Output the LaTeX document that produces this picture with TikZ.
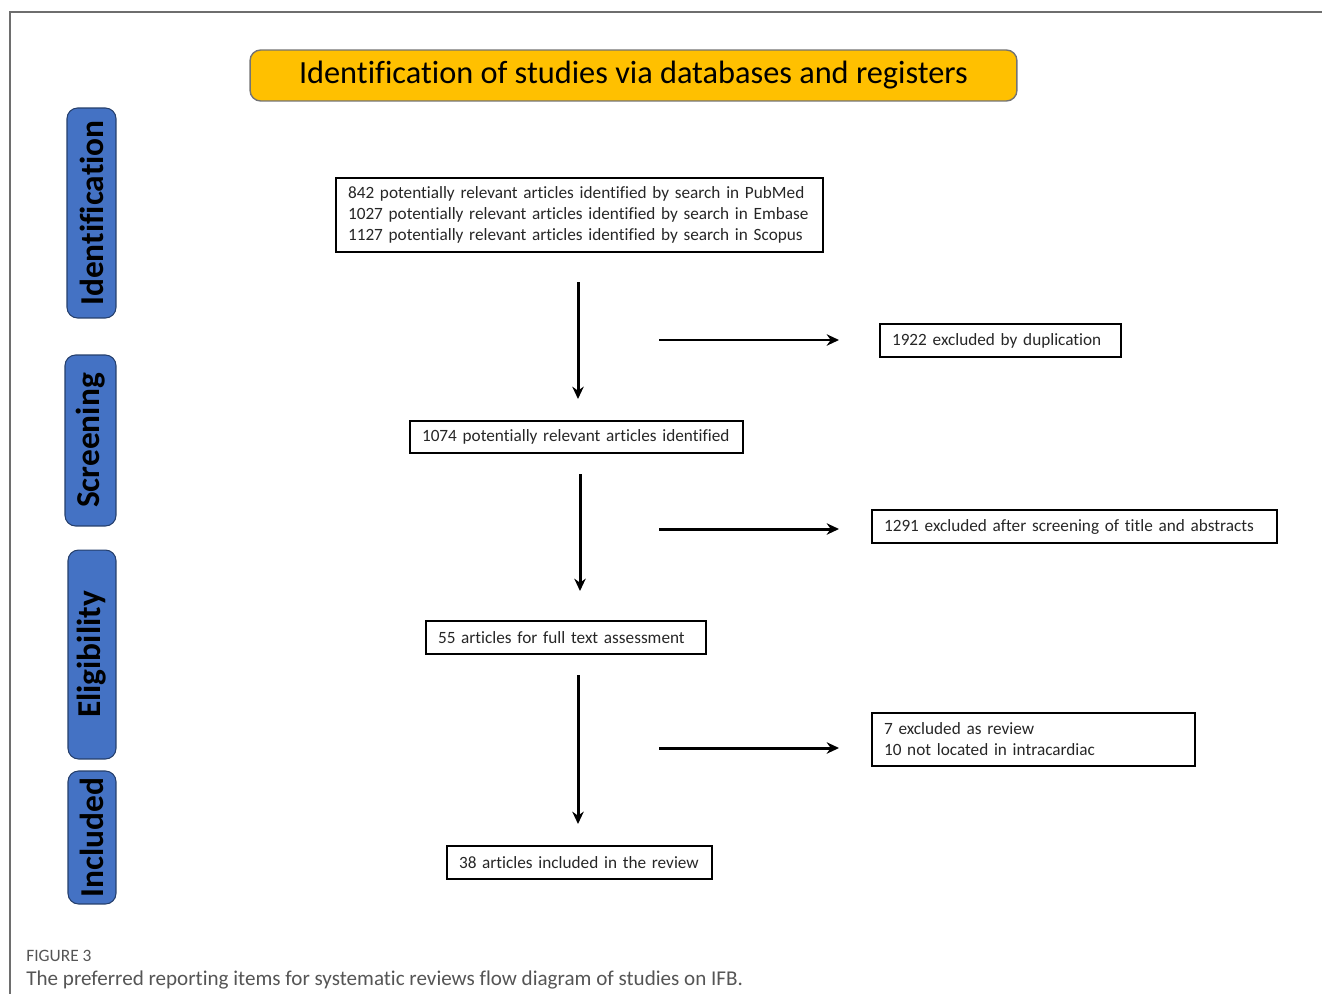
\documentclass[tikz,border=0pt]{standalone}
\usepackage{fontspec}
\setmainfont{Carlito}[Ligatures=NoCommon]
\usetikzlibrary{arrows.meta}

\definecolor{stageblue}{HTML}{4472C4}
\definecolor{titleyellow}{HTML}{FFC000}
\definecolor{framegray}{HTML}{6E6E6E}
\definecolor{captiongray}{HTML}{555555}

\tikzset{
  stage/.style={rotate=90,rounded corners=6pt,fill=stageblue,draw=stageblue!55!black,
    line width=0.6pt,inner sep=0pt,font=\fontsize{19}{21}\selectfont\bfseries},
  flow/.style={-{Stealth[length=7pt,width=6.5pt]},line width=1.7pt}
}

\begin{document}
\begin{tikzpicture}[x=0.02cm, y=-0.02cm]
    \tikzstyle{record}=[draw,line width=1.4pt,inner xsep=0.24cm,inner ysep=0pt,align=left,
      font=\fontsize{9.8}{12}\selectfont,text=black!85]
    \useasboundingbox (0,0) rectangle (1322,994);
    % frame of the figure
    \draw[framegray,line width=0.6pt] (1322,12) -- (10,12) -- (10,994);

    % heading
    \node[rounded corners=6pt,fill=titleyellow,draw=black!55,line width=0.8pt,
      minimum width=15.34cm,minimum height=1.02cm,font=\fontsize{18.4}{20}\selectfont]
      (T) at (633.5,75.5) {Identification of studies via databases and registers};

    % stages
    \node[stage,minimum width=4.2cm,minimum height=0.98cm]  (S_1) at (91.5,213)  {Identification};
    \node[stage,minimum width=3.42cm,minimum height=1.02cm] (S_2) at (90.5,440.5) {Screening};
    \node[stage,minimum width=4.18cm,minimum height=0.96cm] (S_3) at (92,654.5)  {Eligibility};
    \node[stage,minimum width=2.66cm,minimum height=0.96cm] (S_4) at (92,837.5)  {Included};

    % main column
    \node[record,text width=9.26cm,minimum height=1.48cm] (M_1) at (579.5,215)
      {842 potentially relevant articles identified by search in PubMed\\
       1027 potentially relevant articles identified by search in Embase\\
       1127 potentially relevant articles identified by search in Scopus};
    \node[record,text width=6.18cm,minimum height=0.64cm] (M_2) at (576.5,437)
      {1074 potentially relevant articles identified};
    \node[record,text width=5.12cm,minimum height=0.66cm] (M_3) at (566,637.5)
      {55 articles for full text assessment};
    \node[record,text width=4.82cm,minimum height=0.66cm] (M_4) at (579.5,862.5)
      {38 articles included in the review};

    % excluded records
    \node[record,text width=4.34cm,minimum height=0.66cm] (E_1) at (1000.5,340.5)
      {1922 excluded by duplication};
    \node[record,text width=7.62cm,minimum height=0.66cm] (E_2) at (1074.5,526.5)
      {1291 excluded after screening of title and abstracts};
    \node[record,text width=5.98cm,minimum height=1.06cm] (E_3) at (1033.5,739.5)
      {7 excluded as review\\10 not located in intracardiac};

    % arrows
    \coordinate (V_1) at (578,282);  \coordinate (V_2) at (578,399);
    \coordinate (V_3) at (580,474);  \coordinate (V_4) at (580,591);
    \coordinate (V_5) at (578,675);  \coordinate (V_6) at (578,824);
    \coordinate (H_1) at (659,340);  \coordinate (H_2) at (839,340);
    \coordinate (H_3) at (659,529);  \coordinate (H_4) at (839,529);
    \coordinate (H_5) at (659,748);  \coordinate (H_6) at (839,748);
    \draw[flow] (V_1) -- (V_2);
    \draw[flow] (V_3) -- (V_4);
    \draw[flow] (V_5) -- (V_6);
    \draw[flow] (H_1) -- (H_2);
    \draw[flow] (H_3) -- (H_4);
    \draw[flow] (H_5) -- (H_6);

    % caption
    \node[anchor=base west,inner sep=0pt,text=captiongray,font=\fontsize{9.9}{11}\selectfont]
      (C_1) at (26,961) {FIGURE 3};
    \node[anchor=base west,inner sep=0pt,text=captiongray,font=\fontsize{12}{14}\selectfont]
      (C_2) at (26,985) {The preferred reporting items for systematic reviews flow diagram of studies on IFB.};
\end{tikzpicture}
\end{document}
